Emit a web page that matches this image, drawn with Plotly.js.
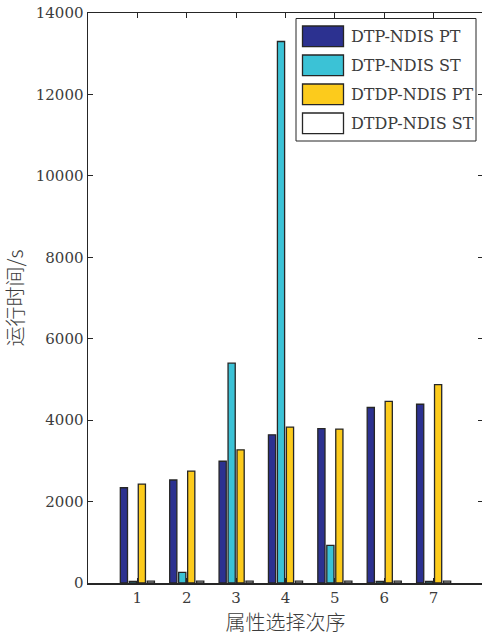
<!DOCTYPE html>
<html>
<head>
<meta charset="utf-8">
<script src="https://cdn.plot.ly/plotly-3.0.1.min.js"></script>
<style>
  html, body { margin: 0; padding: 0; overflow: hidden; background: #fff; }
  #chart { width: 484px; height: 638px; }
</style>
</head>
<body>
<div id="chart"></div>
<script>
// Attribute selection order (x categories)
const order = [1, 2, 3, 4, 5, 6, 7];

// Run time in seconds for each method
const seriesNames = ['DTP-NDIS PT', 'DTP-NDIS ST', 'DTDP-NDIS PT', 'DTDP-NDIS ST'];
const dtpPT  = [2340, 2530, 2990, 3640, 3790, 4310, 4390];
const dtpST  = [40, 260, 5400, 13300, 925, 40, 40];
const dtdpPT = [2430, 2750, 3270, 3830, 3780, 4460, 4870];
const dtdpST = [45, 45, 45, 45, 45, 45, 45];

const yTicks = [0, 2000, 4000, 6000, 8000, 10000, 12000, 14000];

const colors = ['#2c3190', '#3bc2d6', '#fccb1c', '#ffffff'];
const edge = '#262626';
const textColor = '#3c3c3c';
const font = 'DejaVu Serif, Noto Sans CJK SC, serif';
const cjkFont = 'Noto Sans CJK SC, DejaVu Serif, sans-serif';

const values = [dtpPT, dtpST, dtdpPT, dtdpST];

const traces = values.map((v, i) => ({
  type: 'bar',
  x: order,
  y: v,
  name: seriesNames[i],
  marker: { color: colors[i], line: { color: edge, width: 1.3 } },
  hoverinfo: 'x+y+name'
}));

// plot-area geometry (pixels) used to place the boxed legend
const W = 484, H = 638;
const M = { l: 88, r: 1, t: 13, b: 55 };
const pw = W - M.l - M.r, ph = H - M.t - M.b;
const px = x => (x - M.l) / pw;
const py = y => (H - M.b - y) / ph;

const shapes = [];
const annotations = [];

// legend frame
shapes.push({
  type: 'rect', xref: 'paper', yref: 'paper',
  x0: px(296), x1: px(476), y0: py(141), y1: py(18.5),
  fillcolor: '#ffffff', line: { color: edge, width: 1 }, layer: 'above'
});
seriesNames.forEach((name, i) => {
  const cy = 36.3 + i * 29;
  shapes.push({
    type: 'rect', xref: 'paper', yref: 'paper',
    x0: px(302.5), x1: px(343.5), y0: py(cy + 10.3), y1: py(cy - 10.3),
    fillcolor: colors[i], line: { color: edge, width: 1.3 }, layer: 'above'
  });
  annotations.push({
    xref: 'paper', yref: 'paper', x: px(349), y: py(cy),
    xanchor: 'left', yanchor: 'middle', showarrow: false,
    text: name, font: { family: font, size: 16, color: textColor }
  });
});

const layout = {
  width: W, height: H,
  margin: M,
  paper_bgcolor: '#ffffff',
  plot_bgcolor: '#ffffff',
  showlegend: false,
  barmode: 'group',
  bargap: 0.2727,
  bargroupgap: 0.2,
  font: { family: font, size: 15, color: textColor },
  xaxis: {
    range: [0, 8],
    tickvals: order,
    ticktext: order.map(String),
    ticks: 'inside', ticklen: 5, tickwidth: 1, tickcolor: edge,
    showline: true, linecolor: edge, linewidth: 1.5, mirror: 'ticks',
    showgrid: false, zeroline: false,
    tickfont: { family: font, size: 15, color: textColor },
    title: { text: '属性选择次序', font: { family: cjkFont, size: 20, color: textColor, weight: 300 }, standoff: 6 },
    automargin: false
  },
  yaxis: {
    range: [0, 14000],
    tickvals: yTicks,
    tickformat: 'd',
    ticks: 'inside', ticklen: 5, tickwidth: 1, tickcolor: edge,
    showline: true, linecolor: edge, linewidth: 1.5, mirror: 'ticks',
    showgrid: false, zeroline: false,
    tickfont: { family: font, size: 15, color: textColor },
    title: { text: '运行时间/s', font: { family: cjkFont, size: 20, color: textColor, weight: 300 }, standoff: 7 },
    automargin: false
  },
  shapes: shapes,
  annotations: annotations
};

Plotly.newPlot('chart', traces, layout, { staticPlot: true, displayModeBar: false });
</script>
</body>
</html>
